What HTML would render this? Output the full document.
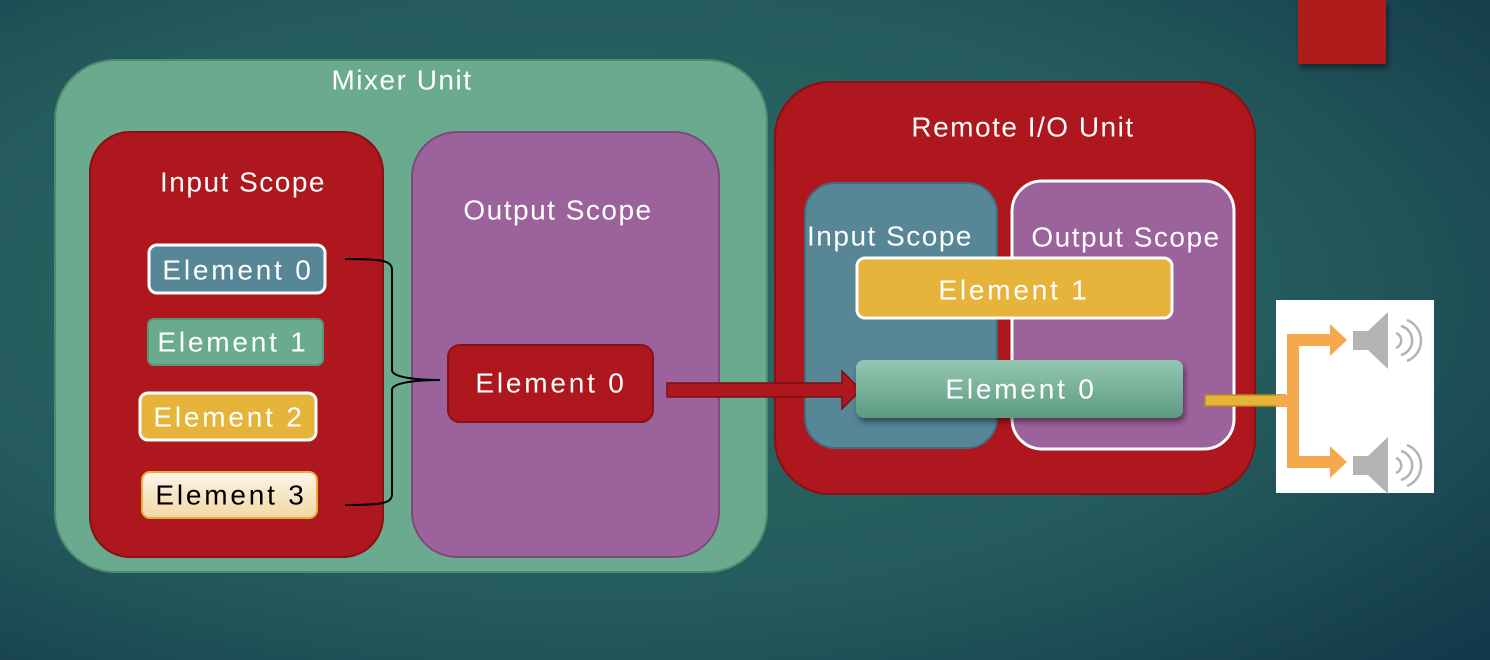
<!DOCTYPE html>
<html><head><meta charset="utf-8"><style>
html,body{margin:0;padding:0;width:1490px;height:660px;overflow:hidden}
svg{display:block}
text{font-family:"Liberation Sans",sans-serif;fill:#fff;font-size:28px;text-anchor:middle;dominant-baseline:central;letter-spacing:1.5px}
text.el{font-size:28px;letter-spacing:2.8px}
</style></head><body>
<svg width="1490" height="660" viewBox="0 0 1490 660" xmlns="http://www.w3.org/2000/svg">
<defs>
<radialGradient id="bg" cx="0.4" cy="0.45" r="0.8">
<stop offset="0" stop-color="#2f6b66"/><stop offset="0.6" stop-color="#245a5c"/><stop offset="1" stop-color="#13384a"/>
</radialGradient>
<linearGradient id="e3" x1="0" y1="0" x2="0" y2="1"><stop offset="0" stop-color="#fcf5ea"/><stop offset="1" stop-color="#f2d8a4"/></linearGradient>
<linearGradient id="g0" x1="0" y1="0" x2="0" y2="1"><stop offset="0" stop-color="#93c7b2"/><stop offset="1" stop-color="#5e9a82"/></linearGradient>
<filter id="sh" x="-10%" y="-10%" width="130%" height="150%"><feDropShadow dx="2" dy="4" stdDeviation="3" flood-color="#000" flood-opacity="0.45"/></filter>
</defs>
<rect width="1490" height="660" fill="url(#bg)"/>
<rect x="1298" y="0" width="88" height="64" fill="#ae1a1f" filter="url(#sh)"/>

<rect x="55" y="60" width="712" height="512" rx="60" fill="#6aab8f" stroke="#4e8a70" stroke-width="2"/>
<text x="402" y="80">Mixer Unit</text>
<rect x="90" y="132" width="293" height="425" rx="40" fill="#ad171d" stroke="#8a1015" stroke-width="2"/>
<text x="243" y="182">Input Scope</text>
<rect x="412" y="132" width="307" height="425" rx="45" fill="#9c629b" stroke="#7d4a7c" stroke-width="2"/>
<text x="558" y="210">Output Scope</text>

<rect x="149" y="245" width="176" height="48" rx="8" fill="#578697" stroke="#fff" stroke-width="3"/>
<text class="el" x="238" y="270">Element 0</text>
<rect x="148" y="319" width="175" height="46" rx="6" fill="#6aab8f" stroke="#58967a" stroke-width="2"/>
<text class="el" x="233" y="342">Element 1</text>
<rect x="140" y="393" width="176" height="47" rx="8" fill="#e6b43a" stroke="#fff" stroke-width="3"/>
<text class="el" x="229" y="417">Element 2</text>
<rect x="142" y="472" width="175" height="46" rx="8" fill="url(#e3)" stroke="#e5b03a" stroke-width="2"/>
<text class="el" x="231" y="495" style="fill:#000">Element 3</text>
<path d="M345 259 C380 259 392 260 392 270 L392 370 C392 378 420 380 440 380 C420 380 392 382 392 390 L392 494 C392 504 380 505 345 505" fill="none" stroke="#000" stroke-width="2"/>

<rect x="448" y="345" width="205" height="77" rx="12" fill="#ad171d" stroke="#8a1015" stroke-width="2"/>
<text class="el" x="551" y="383">Element 0</text>

<rect x="775" y="82" width="480" height="412" rx="55" fill="#ad171d" stroke="#8a1015" stroke-width="2"/>
<text x="1023" y="127">Remote I/O Unit</text>
<rect x="805" y="183" width="192" height="265" rx="30" fill="#578697" stroke="#3f6d7e" stroke-width="2"/>
<text x="890" y="236">Input Scope</text>
<rect x="1012" y="181" width="222" height="268" rx="30" fill="#9c629b" stroke="#fff" stroke-width="3"/>
<text x="1126" y="237">Output Scope</text>
<rect x="857" y="258" width="315" height="60" rx="8" fill="#e6b43a" stroke="#fff" stroke-width="3"/>
<text class="el" x="1014" y="290">Element 1</text>
<path d="M667 383 L842 383 L842 371 L861 390 L842 409 L842 397 L667 397 Z" fill="#ad171d" stroke="#7a1013" stroke-width="1.5"/>
<rect x="856" y="360" width="327" height="58" rx="8" fill="url(#g0)" filter="url(#sh)"/>
<text class="el" x="1021" y="389">Element 0</text>

<rect x="1276" y="300" width="158" height="193" fill="#fff"/>
<rect x="1205" y="395" width="80" height="11" fill="#e6b43a" stroke="#b8891f" stroke-width="1.5"/>
<path d="M1276 395 L1287 395 L1287 334 L1330 334 L1330 324 L1347 340 L1330 356 L1330 346 L1299 346 L1299 456 L1330 456 L1330 446 L1347 462 L1330 478 L1330 468 L1287 468 L1287 407 L1276 407 Z" fill="#f5a94c"/>
<g fill="#b3b3b3">
<path d="M1353 331 L1368 331 L1388 312 L1388 369 L1368 350 L1353 350 Z"/>
<path d="M1353 456 L1368 456 L1388 437 L1388 494 L1368 475 L1353 475 Z"/>
</g>
<g fill="none" stroke="#b3b3b3" stroke-width="2.5">
<path d="M1396 333 A8 8 0 0 1 1396 348"/><path d="M1401 326 A15 15 0 0 1 1401 355"/><path d="M1407 320 A22 22 0 0 1 1407 361"/>
<path d="M1396 458 A8 8 0 0 1 1396 473"/><path d="M1401 451 A15 15 0 0 1 1401 480"/><path d="M1407 445 A22 22 0 0 1 1407 486"/>
</g>
</svg>
</body></html>
